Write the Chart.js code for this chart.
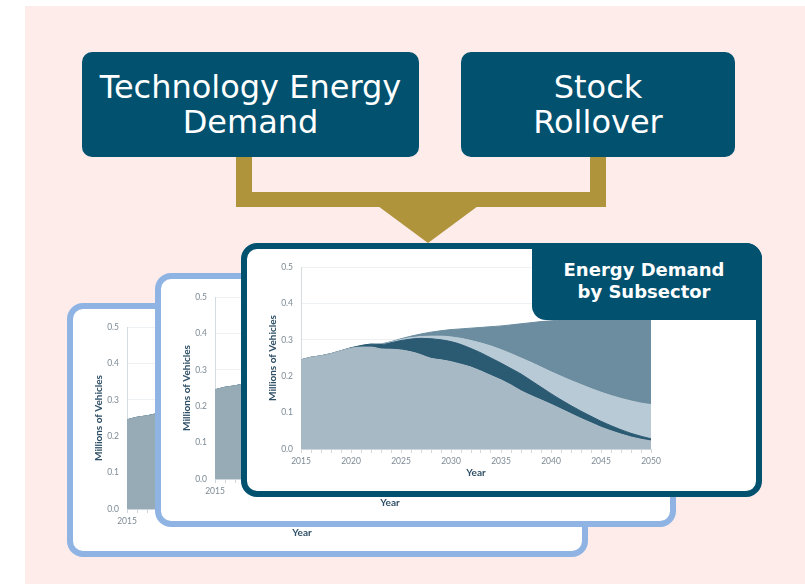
<!DOCTYPE html>
<html>
<head>
<meta charset="utf-8">
<script src="https://cdn.jsdelivr.net/npm/chart.js@4.4.0/dist/chart.umd.min.js"></script>
<style>
  html, body { margin: 0; padding: 0; background: #fff; width: 805px; height: 584px; overflow: hidden; }
  .bg { position: absolute; left: 25px; top: 6px; width: 780px; height: 578px; background: #fdecea; }
  .box { position: absolute; top: 52px; height: 105px; background: #01516f; color: #fff; border-radius: 10px;
         font-family: "DejaVu Sans", sans-serif; font-size: 32px; line-height: 35px; text-align: center;
         display: flex; align-items: center; justify-content: center; z-index: 2; }
  .gold { position: absolute; background: #b0943c; z-index: 1; }
  .card { position: absolute; box-sizing: border-box; width: 521px; height: 254px; background: #fff;
          border: 6px solid #8fb4e3; border-radius: 16px; }
  .card canvas { position: absolute; left: 0; top: 0; }
  .tag { position: absolute; left: 532px; top: 243px; width: 230px; height: 77px; box-sizing: border-box;
         padding-top: 16px; padding-right: 6px; background: #01516f; color: #fff; border-radius: 0 16px 0 14px;
         font-family: "DejaVu Sans", sans-serif; font-weight: bold; font-size: 18px; line-height: 22px;
         text-align: center; z-index: 10; }
</style>
</head>
<body>
<div class="bg"></div>

<div class="gold" style="left:236px; top:140px; width:16px; height:67px;"></div>
<div class="gold" style="left:590px; top:140px; width:16px; height:67px;"></div>
<div class="gold" style="left:236px; top:192px; width:370px; height:15px;"></div>
<div class="gold" style="left:378px; top:206px; width:100px; height:37px; clip-path: polygon(0 0, 100% 0, 50% 100%);"></div>

<div class="box" style="left:82px; width:337px;">Technology Energy<br>Demand</div>
<div class="box" style="left:461px; width:274px;">Stock<br>Rollover</div>

<div class="card" style="left:67px; top:303px; z-index:3;"><canvas id="back" width="509" height="242"></canvas></div>
<div class="card" style="left:155px; top:273px; z-index:4;"><canvas id="middle" width="509" height="242"></canvas></div>
<div class="card" style="left:241px; top:243px; z-index:5; border-color:#01516f;"><canvas id="front" width="509" height="242"></canvas></div>
<div class="tag">Energy Demand<br>by Subsector</div>

<script>
const years = [2015, 2016, 2017, 2018, 2019, 2020, 2021, 2022, 2023, 2024, 2025, 2026,
  2027, 2028, 2029, 2030, 2031, 2032, 2033, 2034, 2035, 2036, 2037, 2038,
  2039, 2040, 2041, 2042, 2043, 2044, 2045, 2046, 2047, 2048, 2049, 2050];
const xTickLabels = [2015, 2020, 2025, 2030, 2035, 2040, 2045, 2050];
const yTickLabels = ["0.0", "0.1", "0.2", "0.3", "0.4", "0.5"];

// upper edge of each stacked layer (cumulative), millions of vehicles
const layer1 = [0.245, 0.252, 0.256, 0.262, 0.270, 0.277, 0.280, 0.280, 0.275, 0.274, 0.272, 0.267,
  0.259, 0.249, 0.245, 0.240, 0.233, 0.225, 0.214, 0.202, 0.190, 0.176, 0.160, 0.147,
  0.135, 0.123, 0.110, 0.097, 0.084, 0.072, 0.060, 0.050, 0.041, 0.033, 0.027, 0.022];
const layer2 = [0.245, 0.252, 0.256, 0.262, 0.270, 0.278, 0.284, 0.288, 0.287, 0.292, 0.298, 0.302,
  0.304, 0.303, 0.300, 0.295, 0.287, 0.276, 0.264, 0.250, 0.236, 0.221, 0.206, 0.188,
  0.170, 0.152, 0.135, 0.119, 0.104, 0.090, 0.076, 0.064, 0.053, 0.043, 0.035, 0.028];
const layer3 = [0.245, 0.252, 0.256, 0.262, 0.270, 0.278, 0.284, 0.288, 0.288, 0.294, 0.301, 0.306,
  0.309, 0.310, 0.310, 0.308, 0.304, 0.298, 0.291, 0.283, 0.273, 0.262, 0.250, 0.238,
  0.225, 0.212, 0.200, 0.188, 0.177, 0.166, 0.156, 0.147, 0.139, 0.132, 0.126, 0.122];
const layer4 = [0.245, 0.252, 0.256, 0.262, 0.270, 0.278, 0.284, 0.288, 0.289, 0.295, 0.303, 0.310,
  0.316, 0.321, 0.325, 0.328, 0.330, 0.332, 0.334, 0.336, 0.338, 0.341, 0.344, 0.347,
  0.350, 0.352, 0.355, 0.357, 0.359, 0.361, 0.363, 0.365, 0.366, 0.367, 0.368, 0.369];

const FONT = "Lato, 'Open Sans', sans-serif";
Chart.defaults.font.family = FONT;

function area(data, fill, color) {
  return {
    data,
    fill,
    backgroundColor: color,
    borderColor: color,
    borderWidth: 1,
    pointRadius: 0,
    cubicInterpolationMode: "monotone",
  };
}

function makeChart(id, baseColor) {
  return new Chart(document.getElementById(id), {
    type: "line",
    data: {
      labels: years,
      datasets: [
        area(layer1, "origin", baseColor),
        area(layer2, "-1", "#2b5a73"),
        area(layer3, "-1", "#b8cad5"),
        area(layer4, "-1", "#6c8da0"),
      ],
    },
    options: {
      responsive: false,
      animation: false,
      layout: { padding: { top: 18, left: 0, right: 105, bottom: 8 } },
      plugins: { legend: { display: false }, tooltip: { enabled: false } },
      scales: {
        x: {
          offset: false,
          grid: { drawOnChartArea: false, drawTicks: true, tickLength: 4, color: "#cfd6db" },
          border: { color: "#cfd6db" },
          ticks: {
            autoSkip: false,
            maxRotation: 0,
            padding: 3,
            color: "#7d8a94",
            font: { size: 8.5 },
            callback(value, i) {
              return xTickLabels.includes(years[i]) ? String(years[i]) : "";
            },
          },
          title: { display: true, text: "Year", color: "#2f4f66", font: { size: 10, weight: "bold" }, padding: { top: 0, bottom: 4 } },
          afterFit(scale) {
            scale.height = 34;
          },
        },
        y: {
          min: 0,
          max: 0.5,
          grid: { color: "#eef1f3", drawTicks: false },
          border: { color: "#d5dce0" },
          ticks: {
            stepSize: 0.1,
            padding: 8,
            color: "#7d8a94",
            font: { size: 8.5 },
            callback(value, i) {
              return yTickLabels[i];
            },
          },
          title: { display: true, text: "Millions of Vehicles", color: "#2f4f66", font: { size: 10, weight: "bold" }, padding: { top: 20, bottom: 0 } },
          afterFit(scale) {
            scale.width = 54;
          },
        },
      },
    },
  });
}

makeChart("back", "#97abb7");
makeChart("middle", "#97abb7");
makeChart("front", "#a7b9c4");
</script>
</body>
</html>
